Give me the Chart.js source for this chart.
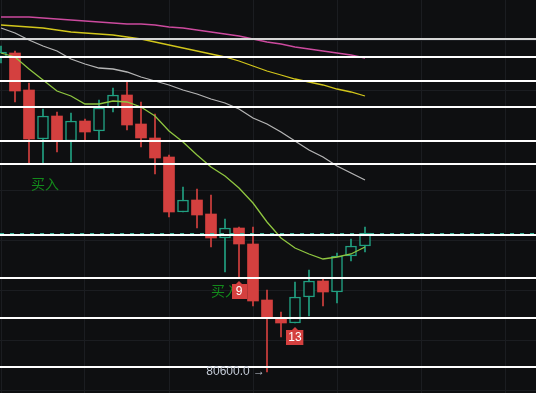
<!DOCTYPE html>
<html>
<head>
<meta charset="utf-8">
<script src="https://cdn.jsdelivr.net/npm/chart.js@4.4.1/dist/chart.umd.min.js"></script>
<style>
  html, body { margin: 0; padding: 0; background: #0e0f11; }
  canvas { display: block; }
</style>
</head>
<body>
<canvas id="chart" width="536" height="393"></canvas>
<script>
// candles, oldest first
const opens  = [83750, 83790, 83420, 82930, 83160, 82910, 83110, 83010, 83240, 83370, 83080, 82940, 82750, 82200, 82320, 82180, 81940, 82040, 81880, 81320, 81140, 81090, 81350, 81510, 81400, 81760, 81860];
const closes = [83800, 83410, 82930, 83160, 82910, 83110, 83000, 83240, 83370, 83070, 82940, 82740, 82200, 82320, 82170, 81940, 82040, 81880, 81310, 81140, 81090, 81350, 81510, 81400, 81760, 81860, 81990];
const highs  = [83860, 83810, 83490, 83230, 83200, 83190, 83130, 83320, 83440, 83510, 83300, 83180, 82770, 82450, 82430, 82370, 82130, 82050, 82050, 81420, 81200, 81500, 81620, 81540, 81790, 81930, 82050];
const lows   = [83690, 83300, 82680, 82680, 82800, 82700, 82920, 82910, 83200, 83020, 82850, 82580, 82150, 82200, 82040, 81850, 81600, 81550, 81260, 80600, 80950, 81090, 81160, 81260, 81290, 81710, 81800];

// moving averages
const maShort = [83790, 83750, 83630, 83520, 83410, 83360, 83280, 83280, 83310, 83300, 83250, 83160, 83010, 82900, 82770, 82650, 82560, 82440, 82290, 82100, 81940, 81840, 81780, 81730, 81750, 81780, 81850];
const maMid   = [84040, 83990, 83920, 83860, 83810, 83730, 83680, 83640, 83630, 83600, 83550, 83510, 83470, 83420, 83380, 83330, 83290, 83230, 83140, 83080, 83000, 82910, 82820, 82750, 82660, 82590, 82520];
const maLong  = [84070, 84060, 84050, 84040, 84020, 84000, 83990, 83980, 83970, 83950, 83930, 83900, 83870, 83840, 83810, 83780, 83750, 83710, 83660, 83610, 83570, 83530, 83500, 83470, 83430, 83400, 83360];
const maSlow  = [84150, 84150, 84150, 84140, 84130, 84120, 84110, 84100, 84090, 84080, 84080, 84070, 84050, 84040, 84020, 84000, 83980, 83960, 83930, 83900, 83880, 83850, 83830, 83810, 83790, 83770, 83740];

// horizontal levels
const levelPrices = [83930, 83750, 83510, 83250, 82910, 82680, 81970, 81540, 81140, 80650];
const lastPrice = 81990;

const gridPrices = [83920, 83420, 82920, 82420, 81920, 81420, 80920, 80420];
const gridIndex = [0, 6, 12, 18, 24, 30, 36];

// signal marks
const buyMarks = [[2.14, 82485], [15.0, 81410]];
const countMarks = [[17, "9"], [21, "13"]];
const lowMark = [19, "80600.0"];

const BG = "#0e0f11";
const RED = "#d4403f";
const TEAL = "#21a082";

const isUp = (i) => closes[i] >= opens[i];
const candleColor = (c) => (isUp(c.dataIndex) ? TEAL : RED);

function maDataset(values, color, order) {
  return {
    type: "line",
    data: values.map((v, i) => ({ x: i, y: v })),
    borderColor: color,
    borderWidth: 1.3,
    pointRadius: 0,
    tension: 0,
    order: order,
  };
}

const overlay = {
  id: "overlay",
  afterDatasetsDraw(chart) {
    const { ctx, scales } = chart;
    const x = scales.x;
    const y = scales.y;
    const W = chart.width;
    ctx.save();

    // last price dashed line
    ctx.strokeStyle = "#33b396";
    ctx.lineWidth = 1;
    ctx.setLineDash([4, 6]);
    const ly = Math.round(y.getPixelForValue(lastPrice)) + 0.5;
    ctx.beginPath();
    ctx.moveTo(0, ly);
    ctx.lineTo(W, ly);
    ctx.stroke();
    ctx.setLineDash([]);

    // white levels
    levelPrices.forEach((p, k) => {
      const py = Math.round(y.getPixelForValue(p));
      ctx.strokeStyle = k === 0 ? "#d6d6d6" : "#ffffff";
      ctx.lineWidth = 1.8;
      ctx.beginPath();
      ctx.moveTo(0, py);
      ctx.lineTo(W, py);
      ctx.stroke();
    });

    // buy texts
    ctx.font = '14px "Noto Sans CJK SC"';
    ctx.fillStyle = "#13891b";
    ctx.textAlign = "left";
    ctx.textBaseline = "middle";
    buyMarks.forEach(([i, p]) => {
      ctx.fillText("买入", x.getPixelForValue(i), y.getPixelForValue(p));
    });

    // count boxes under candles
    ctx.font = '12px "Liberation Sans"';
    countMarks.forEach(([i, txt]) => {
      const cx = x.getPixelForValue(i);
      const top = y.getPixelForValue(lows[i]) + 7;
      const w = Math.max(15, ctx.measureText(txt).width + 4);
      ctx.fillStyle = RED;
      ctx.fillRect(Math.round(cx - w / 2), top, w, 15);
      ctx.beginPath();
      ctx.moveTo(cx - 3, top);
      ctx.lineTo(cx, top - 3);
      ctx.lineTo(cx + 3, top);
      ctx.fill();
      ctx.fillStyle = "#ffffff";
      ctx.textAlign = "center";
      ctx.fillText(txt, cx, top + 8);
    });

    // lowest price label
    const [li, ltxt] = lowMark;
    ctx.fillStyle = "#c3cad6";
    ctx.textAlign = "right";
    ctx.fillText(ltxt + " \u2192", x.getPixelForValue(li) - 2, y.getPixelForValue(lows[li]));

    ctx.restore();
  },
};

new Chart(document.getElementById("chart"), {
  type: "bar",
  data: {
    datasets: [
      {
        data: highs.map((h, i) => ({ x: i, y: [lows[i], h] })),
        backgroundColor: candleColor,
        barThickness: 1,
        grouped: false,
        order: 5,
      },
      {
        data: opens.map((o, i) => ({ x: i, y: [o, closes[i]] })),
        backgroundColor: (c) => (isUp(c.dataIndex) ? BG : RED),
        borderColor: candleColor,
        borderWidth: (c) => (isUp(c.dataIndex) ? 1.5 : 0),
        borderSkipped: false,
        barThickness: 11,
        grouped: false,
        order: 4,
      },
      maDataset(maMid, "#b5b5b5", 3),
      maDataset(maLong, "#d2c61b", 2),
      maDataset(maSlow, "#cc4a9e", 2),
      maDataset(maShort, "#8fc640", 1),
    ],
  },
  options: {
    responsive: false,
    animation: false,
    devicePixelRatio: 1,
    layout: { padding: 0 },
    plugins: { legend: { display: false }, tooltip: { enabled: false } },
    scales: {
      x: {
        type: "linear",
        offset: false,
        min: -1 / 14,
        max: 535 / 14,
        afterBuildTicks: (s) => { s.ticks = gridIndex.map((v) => ({ value: v })); },
        ticks: { display: false },
        grid: { color: "#1b1d21", drawTicks: false, offset: false },
        border: { display: false },
      },
      y: {
        min: 80390,
        max: 84320,
        afterBuildTicks: (s) => { s.ticks = gridPrices.map((v) => ({ value: v })); },
        ticks: { display: false },
        grid: { color: "#1b1d21", drawTicks: false },
        border: { display: false },
      },
    },
  },
  plugins: [overlay],
});
</script>
</body>
</html>
